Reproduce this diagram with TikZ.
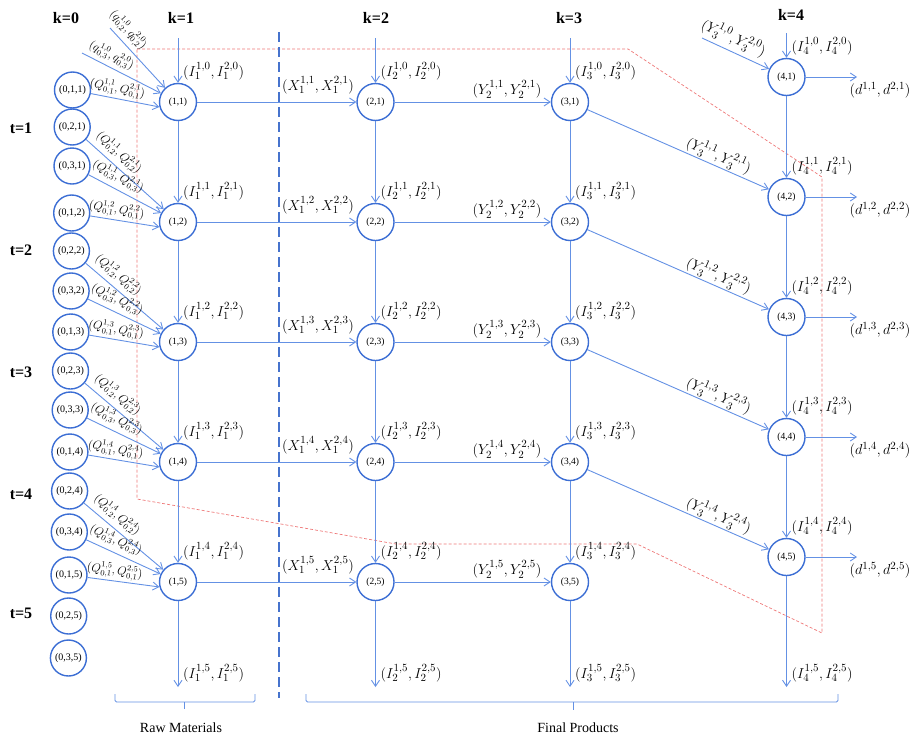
\documentclass[tikz,border=0pt]{standalone}
\usepackage{fontspec}
\setmainfont{Liberation Serif}
\usetikzlibrary{arrows.meta}
\definecolor{lblue}{RGB}{100,145,228}
\definecolor{cblue}{RGB}{60,110,212}
\definecolor{dblue}{RGB}{70,115,205}
\definecolor{lred}{RGB}{238,120,120}
\begin{document}
\begin{tikzpicture}[x=1pt,y=-1pt,
  st/.style={circle,draw=cblue,line width=1.4pt,minimum size=37pt,inner sep=0pt,font=\fontsize{9.5}{10}\selectfont},
  sz/.style={st,minimum size=36pt,font=\fontsize{10}{11}\selectfont},
  fl/.style={draw=lblue,line width=0.9pt,-{Straight Barb[length=6pt,width=8pt]}},
  ml/.style={font=\fontsize{15}{17}\selectfont,inner sep=0pt},
  ql/.style={font=\fontsize{12}{13}\selectfont,inner sep=0pt},
  hd/.style={font=\fontsize{16}{18}\selectfont\bfseries},
  brk/.style={draw=lblue,line width=0.9pt,rounded corners=1.5pt},
  captext/.style={font=\fontsize{14}{16}\selectfont},
]
\useasboundingbox (0,0) rectangle (917,739);

% red dashed region
\draw[lred,line width=0.7pt,dash pattern=on 3pt off 2pt]
  (137,49) -- (628,49) -- (822,177) -- (822,633) -- (637,544) -- (396,544) -- (137,499) -- cycle;

% blue dashed separator
\draw[dblue,line width=1.8pt,dash pattern=on 10pt off 5pt] (279,32) -- (279,698);

% headers
\node[hd] (k0) at (66,18) {k=0};
\node[hd] (k1) at (181,18) {k=1};
\node[hd] (k2) at (376,18) {k=2};
\node[hd] (k3) at (569,18) {k=3};
\node[hd] (k4) at (791,15) {k=4};
\node[hd] (tt1) at (21,128) {t=1};
\node[hd] (tt2) at (21,250) {t=2};
\node[hd] (tt3) at (21,372) {t=3};
\node[hd] (tt4) at (21,494) {t=4};
\node[hd] (tt5) at (21,613) {t=5};

% main nodes
\foreach \t in {1,...,5}{
  \pgfmathsetmacro\yy{102+120*(\t-1)}
  \pgfmathsetmacro\yf{77+120*(\t-1)}
  \node[st] (a1-\t) at (178,\yy) {(1,\t)};
  \node[st] (a2-\t) at (375.5,\yy) {(2,\t)};
  \node[st] (a3-\t) at (570,\yy) {(3,\t)};
  \node[st] (a4-\t) at (786.5,\yf) {(4,\t)};
  \coordinate (d\t) at (857,\yf);
}

% k=0 nodes
\foreach \t/\j/\yy/\xx in {1/1/90/72.5, 1/2/127/72.2, 1/3/166/72, 2/1/213/71.7, 2/2/251/71.4, 2/3/291/71.1, 3/1/332/70.8, 3/2/371/70.5, 3/3/410/70.2, 4/1/452/69.9, 4/2/491/69.6, 4/3/532/69.3, 5/1/575/69, 5/2/616/68.7, 5/3/658/68.4}
  \node[sz] (z\j-\t) at (\xx,\yy) {(0,\j,\t)};

% free ends
\coordinate (t1) at (178,38);
\coordinate (t2) at (375.5,38);
\coordinate (t3) at (570,38);
\coordinate (t4) at (786.5,33);
\coordinate (b1) at (178,687);
\coordinate (b2) at (375.5,687);
\coordinate (b3) at (570,687);
\coordinate (b4) at (786.5,687);
\coordinate (q2) at (110,28);
\coordinate (q3) at (82,53);
\coordinate (y0) at (702,38);

% vertical inventory flows
\foreach \k in {1,...,4}{
  \draw[fl] (t\k) -- (a\k-1);
  \draw[fl] (a\k-5) -- (b\k);
  \node[ml,anchor=west] (lb\k) at ([shift={(5,-14)}]b\k) {$(I_{\k}^{1,5},I_{\k}^{2,5})$};
  \foreach \t [evaluate=\t as \n using int(\t+1)] in {0,...,4}{
    \ifnum\t>0 \draw[fl] (a\k-\t) -- (a\k-\n);\fi
    \node[ml,anchor=west] (li\k-\t) at ([shift={(5,-31)}]a\k-\n) {$(I_{\k}^{1,\t},I_{\k}^{2,\t})$};
  }
}

% horizontal flows and demand
\foreach \t in {1,...,5}{
  \draw[fl] (a1-\t) -- (a2-\t);
  \node[ml] (lx\t) at ([shift={(-57.5,-17)}]a2-\t) {$(X_1^{1,\t},X_1^{2,\t})$};
  \draw[fl] (a2-\t) -- (a3-\t);
  \node[ml] (ly\t) at ([shift={(-63,-12.5)}]a3-\t) {$(Y_2^{1,\t},Y_2^{2,\t})$};
  \draw[fl] (a4-\t) -- (d\t);
  \node[ml] (ld\t) at ([shift={(23,13)}]d\t) {$(d^{1,\t},d^{2,\t})$};
}

% diagonal flows to k=4
\draw[fl] (y0) -- node[ml,sloped,above=4pt,pos=0.39] (lz0) {$(Y_3^{1,0},Y_3^{2,0})$} (a4-1);
\foreach \t [evaluate=\t as \n using int(\t+1)] in {1,...,4}
  \draw[fl] (a3-\t) -- node[ml,sloped,above=1.5pt,pos=0.70] (lz\t) {$(Y_3^{1,\t},Y_3^{2,\t})$} (a4-\n);

% k=0 flows
\draw[fl] (q2) -- node[ql,sloped,above=4pt,pos=0.17] (lq2) {$(q_{0,2}^{1,0},q_{0,2}^{2,0})$} (a1-1);
\draw[fl] (q3) -- node[ql,sloped,above=3pt,pos=0.31] (lq3) {$(q_{0,3}^{1,0},q_{0,3}^{2,0})$} (a1-1);
\foreach \t in {1,...,5}
  \draw[fl] (z1-\t) -- node[ql,sloped,above=2pt,pos=0.36] (lqa\t) {$(Q_{0,1}^{1,\t},Q_{0,1}^{2,\t})$} (a1-\t.195);
\foreach \t [evaluate=\t as \n using int(\t+1)] in {1,...,4}{
  \draw[fl] (z2-\t) -- node[ql,sloped,above=4pt,pos=0.32] (lqb\t) {$(Q_{0,2}^{1,\t},Q_{0,2}^{2,\t})$} (a1-\n);
  \draw[fl] (z3-\t) -- node[ql,sloped,above=4pt,pos=0.33] (lqc\t) {$(Q_{0,3}^{1,\t},Q_{0,3}^{2,\t})$} (a1-\n);
}

% brackets
\draw[brk] (115,694) -- (115,702) -- (255,702) -- (255,694);
\draw[brk] (184,702) -- (184,709);
\draw[brk] (306,694) -- (306,702) -- (838,702) -- (838,694);
\draw[brk] (573,702) -- (573,710);
\node[captext] (raw) at (181,728) {Raw Materials};
\node[captext] (fin) at (578,728) {Final Products};
\end{tikzpicture}
\end{document}
